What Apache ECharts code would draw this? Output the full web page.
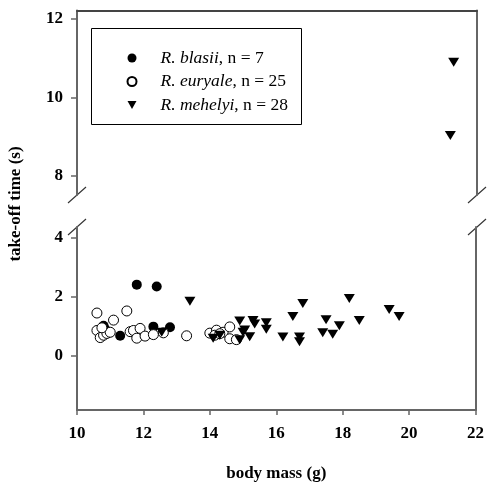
<!DOCTYPE html>
<html>
<head>
<meta charset="utf-8">
<script src="https://cdn.jsdelivr.net/npm/echarts@6/dist/echarts.min.js"></script>
<style>
  html, body { margin: 0; padding: 0; background: #fff; }
  #chart { width: 487px; height: 483px; }
</style>
</head>
<body>
<div id="chart"></div>
<script>
// data
const speciesNames = ['R. blasii', 'R. euryale', 'R. mehelyi']
const speciesCounts = [7, 25, 28]

const blasiiMass = [11.8, 12.4, 10.8, 10.85, 11.3, 12.3, 12.8]
const blasiiTime = [2.41, 2.35, 1.02, 0.9, 0.68, 0.99, 0.97]

const euryaleMass = [10.6, 11.5, 11.1, 10.6, 10.7, 10.8, 10.9, 11.0, 11.6, 11.7, 11.8, 11.9, 12.05,
  12.3, 12.6, 13.3, 14.0, 14.2, 14.15, 14.4, 14.6, 14.6, 14.8, 10.75, 14.3]
const euryaleTime = [1.45, 1.52, 1.21, 0.86, 0.62, 0.7, 0.76, 0.8, 0.82, 0.86, 0.6, 0.93, 0.67,
  0.72, 0.78, 0.68, 0.77, 0.87, 0.7, 0.8, 0.98, 0.58, 0.55, 0.95, 0.75]

const mehelyiMass = [13.4, 14.1, 14.3, 14.9, 14.9, 15.05, 15.2, 15.3, 15.35, 15.7, 15.7, 16.2, 16.5, 16.7,
  16.7, 16.8, 17.4, 17.5, 17.7, 17.9, 18.2, 18.5, 19.4, 19.7, 21.2, 21.3, 12.55, 15.0]
const mehelyiTime = [1.85, 0.6, 0.7, 1.18, 0.55, 0.88, 0.65, 1.2, 1.08, 1.12, 0.9, 0.64, 1.33, 0.64,
  0.48, 1.77, 0.78, 1.22, 0.73, 1.02, 1.94, 1.2, 1.57, 1.33, 9.03, 10.9, 0.8, 0.8]

const xTicks = [10, 12, 14, 16, 18, 20, 22]
const upperTicks = [8, 10, 12]
const lowerTicks = [0, 2, 4]
const breakValue = 6

const font = "'Liberation Serif', 'Times New Roman', serif"
const axisColor = '#666'

const pairs = (xs, ys) => xs.map((x, i) => [x, ys[i]])
const lower = (xs, ys) => pairs(xs, ys).filter(p => p[1] < breakValue)
const upper = (xs, ys) => pairs(xs, ys).filter(p => p[1] >= breakValue)

// layout of the two panels
const plotLeft = 77
const plotRight = 477
const upperTop = 10.5
const upperBottom = 195
const lowerTop = 227
const lowerBottom = 410

const chart = echarts.init(document.getElementById('chart'))

const baseY = {
  type: 'value',
  scale: true,
  splitLine: { show: false },
  axisLine: { show: true, lineStyle: { color: axisColor, width: 2 } }
}

const leftY = (min, max, ticks) => Object.assign({}, baseY, {
  min: min,
  max: max,
  position: 'left',
  axisTick: { show: true, length: 6, lineStyle: { color: axisColor, width: 1.5 }, customValues: ticks },
  axisLabel: {
    show: true, margin: 14, customValues: ticks,
    fontFamily: font, fontWeight: 'bold', fontSize: 17, color: '#000'
  }
})

const rightY = (min, max) => Object.assign({}, baseY, {
  min: min,
  max: max,
  position: 'right',
  axisTick: { show: false },
  axisLabel: { show: false }
})

const slash = (cx, cy) => ({
  type: 'line',
  shape: { x1: cx - 9, y1: cy + 8, x2: cx + 9, y2: cy - 8 },
  style: { stroke: '#333', lineWidth: 1.2 }
})

const markerStyle = {
  blasii: { symbol: 'circle', symbolSize: 10, itemStyle: { color: '#000', opacity: 1 } },
  euryale: { symbol: 'circle', symbolSize: 10, itemStyle: { color: '#fff', borderColor: '#000', borderWidth: 1, opacity: 1 } },
  mehelyi: { symbol: 'triangle', symbolRotate: 180, symbolSize: [11, 9], itemStyle: { color: '#000', opacity: 1 } }
}

const legendIcons = ['circle', 'circle', 'path://M0,0 L10,0 L5,9 Z']

const option = {
  animation: false,
  backgroundColor: '#fff',
  grid: [
    { left: plotLeft, right: 487 - plotRight, top: upperTop, height: upperBottom - upperTop },
    { left: plotLeft, right: 487 - plotRight, top: lowerTop, height: lowerBottom - lowerTop }
  ],
  xAxis: [
    {
      gridIndex: 0, type: 'value', min: 10, max: 22, position: 'top',
      axisLine: { show: true, lineStyle: { color: '#444', width: 2 } },
      axisTick: { show: false }, axisLabel: { show: false }, splitLine: { show: false }
    },
    {
      gridIndex: 1, type: 'value', min: 10, max: 22, position: 'bottom',
      axisLine: { show: true, onZero: false, lineStyle: { color: axisColor, width: 2 } },
      axisTick: { show: true, length: 5, lineStyle: { color: axisColor, width: 1.5 }, customValues: xTicks },
      axisLabel: {
        show: true, margin: 15, customValues: xTicks,
        fontFamily: font, fontWeight: 'bold', fontSize: 17, color: '#000'
      },
      splitLine: { show: false },
      name: 'body mass (g)',
      nameLocation: 'middle',
      nameGap: 55,
      nameTextStyle: { fontFamily: font, fontWeight: 'bold', fontSize: 17, color: '#000' }
    }
  ],
  yAxis: [
    Object.assign(leftY(7.516, 12.217, upperTicks), { gridIndex: 0 }),
    Object.assign(rightY(7.516, 12.217), { gridIndex: 0 }),
    Object.assign(leftY(-1.83, 4.36, lowerTicks), { gridIndex: 1 }),
    Object.assign(rightY(-1.83, 4.36), { gridIndex: 1 })
  ],
  legend: {
    orient: 'vertical',
    left: 121.5,
    top: 44,
    itemWidth: 9,
    itemHeight: 9,
    itemGap: 5.5,
    data: speciesNames.map((name, i) => ({ name: name, icon: legendIcons[i] })),
    formatter: name => {
      const i = speciesNames.indexOf(name)
      return '{sp|}{it|' + name + '}{n|, n = ' + speciesCounts[i] + '}'
    },
    textStyle: {
      fontFamily: font, fontSize: 17.5, color: '#000', lineHeight: 18,
      rich: {
        sp: { width: 19 },
        it: { fontFamily: font, fontSize: 17.5, fontStyle: 'italic', color: '#000', lineHeight: 18 },
        n: { fontFamily: font, fontSize: 17.5, color: '#000', lineHeight: 18 }
      }
    }
  },
  graphic: [
    {
      type: 'rect',
      shape: { x: 91.5, y: 28.5, width: 210, height: 96 },
      style: { fill: 'none', stroke: '#000', lineWidth: 1 },
      z: 10
    },
    slash(plotLeft, upperBottom), slash(plotLeft, lowerTop),
    slash(plotRight, upperBottom), slash(plotRight, lowerTop),
    {
      type: 'text',
      x: 16,
      y: 204,
      rotation: Math.PI / 2,
      style: {
        text: 'take-off time (s)',
        fontFamily: font, fontWeight: 'bold', fontSize: 17, fill: '#000',
        align: 'center', verticalAlign: 'middle'
      }
    }
  ],
  series: [
    Object.assign({
      name: speciesNames[0], type: 'scatter', xAxisIndex: 1, yAxisIndex: 2,
      data: lower(blasiiMass, blasiiTime)
    }, markerStyle.blasii),
    Object.assign({
      name: speciesNames[1], type: 'scatter', xAxisIndex: 1, yAxisIndex: 2,
      data: lower(euryaleMass, euryaleTime)
    }, markerStyle.euryale),
    Object.assign({
      name: speciesNames[2], type: 'scatter', xAxisIndex: 1, yAxisIndex: 2,
      data: lower(mehelyiMass, mehelyiTime)
    }, markerStyle.mehelyi),
    Object.assign({
      name: speciesNames[2], type: 'scatter', xAxisIndex: 0, yAxisIndex: 0,
      data: upper(mehelyiMass, mehelyiTime)
    }, markerStyle.mehelyi)
  ]
}

chart.setOption(option)
</script>
</body>
</html>
